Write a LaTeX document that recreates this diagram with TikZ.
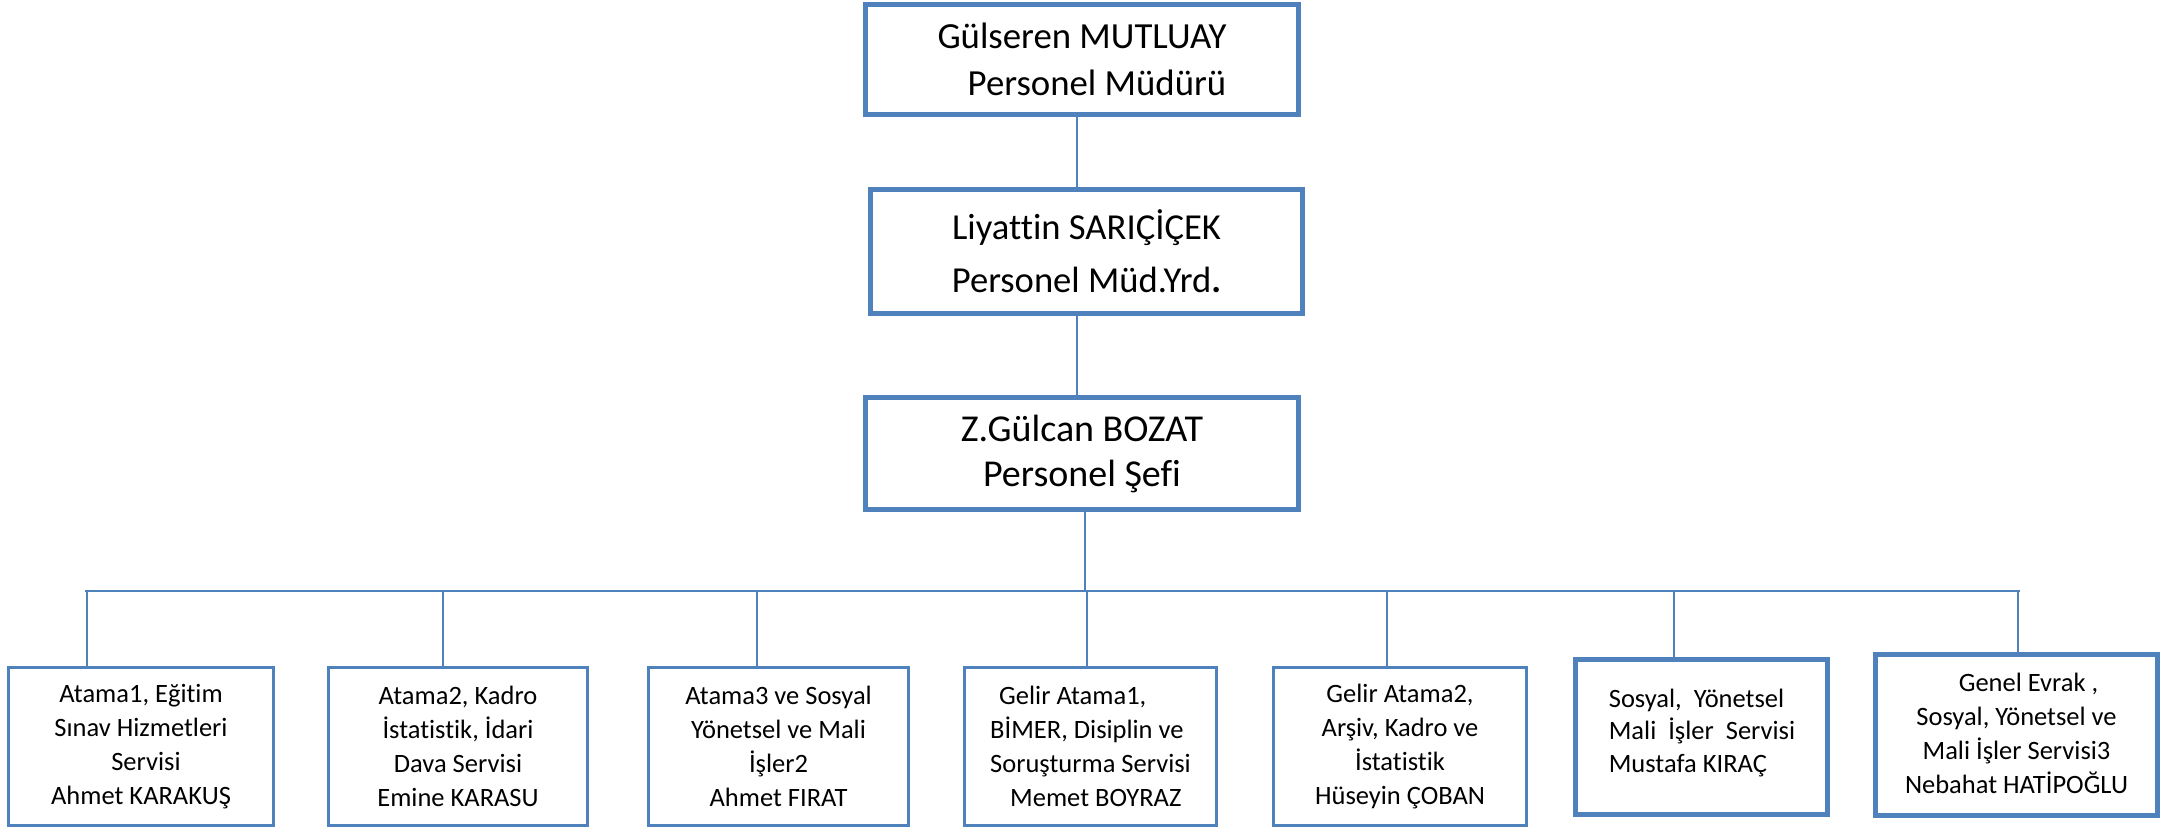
\documentclass[tikz,border=0pt]{standalone}
\usepackage{fontspec}
\setmainfont[Ligatures={NoCommon}]{Carlito}
\definecolor{obl}{HTML}{4F81BD}
\begin{document}
\begin{tikzpicture}[x=0.5pt,y=-0.5pt,
  headbox/.style={draw=obl, line width=2.5pt, inner sep=0pt, outer sep=0pt, align=center},
  unitbox/.style={draw=obl, line width=1.5pt, inner sep=0pt, outer sep=0pt, align=center,
    minimum height=79pt, font=\fontsize{13.25pt}{17pt}\selectfont},
  thickunit/.style={draw=obl, line width=2.5pt, inner sep=0pt, outer sep=0pt},
  unittext/.style={inner sep=0pt, font=\fontsize{13.25pt}{17pt}\selectfont},
  link/.style={draw=obl, line width=1.4pt},
  thinlink/.style={draw=obl, line width=1pt}
]
\useasboundingbox (0,0) rectangle (2167,829);

% top chain
\node[headbox, minimum width=216.5pt, minimum height=55pt,
      font=\fontsize{18.4pt}{23.5pt}\selectfont] (mud) at (1082,59.5)
  {Gülseren MUTLUAY\\\hspace*{15pt}Personel Müdürü};
\node[headbox, minimum width=216pt, minimum height=62pt,
      font=\fontsize{18.3pt}{26.5pt}\selectfont] (yrd) at (1086.5,251.5)
  {Liyattin SARIÇİÇEK\\Personel Müd.Yrd{\bfseries .}};
\node[headbox, minimum width=216.5pt, minimum height=56pt,
      font=\fontsize{19pt}{22.5pt}\selectfont] (sef) at (1082,453.5)
  {Z.Gülcan BOZAT\\Personel Şefi};

% bottom units
\node[unitbox, minimum width=132.5pt] (u1) at (141,746.5)
  {Atama1, Eğitim\\Sınav Hizmetleri\\\hspace*{5pt}Servisi\\Ahmet KARAKUŞ};
\node[unitbox, minimum width=129.5pt] (u2) at (458,746.5)
  {Atama2, Kadro\\İstatistik, İdari\\Dava Servisi\\Emine KARASU};
\node[unitbox, minimum width=130pt] (u3) at (778.5,746.5)
  {Atama3 ve Sosyal\\Yönetsel ve Mali\\İşler2\\Ahmet FIRAT};
\node[unitbox, minimum width=126pt, align=left] (u4) at (1090.5,746.5)
  {\hspace*{4.5pt}Gelir Atama1,\\BİMER, Disiplin ve\\Soruşturma Servisi\\\hspace*{10pt}Memet BOYRAZ};
\node[unitbox, minimum width=126.5pt] (u5) at (1400,746.5)
  {Gelir Atama2,\\Arşiv, Kadro ve\\İstatistik\\Hüseyin ÇOBAN};
\node[thickunit, minimum width=126pt, minimum height=77.5pt] (u6) at (1701.5,737) {};
\node[unittext, align=left, font=\fontsize{13.25pt}{16.3pt}\selectfont] (t6) at (1702,733)
  {Sosyal,\ \ Yönetsel\\Mali\ \ İşler\ \ Servisi\\Mustafa KIRAÇ};
\node[thickunit, minimum width=141pt, minimum height=80.5pt] (u7) at (2016.5,735) {};
\node[unittext, align=center] (t7) at (2016.5,733)
  {\hspace*{12pt}Genel Evrak ,\\Sosyal, Yönetsel ve\\Mali İşler Servisi3\\Nebahat HATİPOĞLU};

% bus junctions
\coordinate (bl) at (85,591);
\coordinate (br) at (2020,591);
\coordinate (j0) at (1085,591);
\coordinate (j1) at (87,591);
\coordinate (j2) at (443,591);
\coordinate (j3) at (757,591);
\coordinate (j4) at (1087,591);
\coordinate (j5) at (1387,591);
\coordinate (j6) at (1674,591);
\coordinate (j7) at (2018,591);

% connectors
\draw[thinlink] ([xshift=-2.5pt]mud.south) -- ([xshift=-2.5pt]mud.south |- yrd.north);
\draw[thinlink] ([xshift=-5pt]yrd.south) -- ([xshift=-5pt]yrd.south |- sef.north);
\draw[thinlink] (sef.south -| j0) -- (j0);
\draw[link] (bl) -- (br);
\draw[link] (j1) -- (j1 |- u1.north);
\draw[link] (j2) -- (j2 |- u2.north);
\draw[link] (j3) -- (j3 |- u3.north);
\draw[link] (j4) -- (j4 |- u4.north);
\draw[link] (j5) -- (j5 |- u5.north);
\draw[thinlink] (j6) -- (j6 |- u6.north);
\draw[thinlink] (j7) -- (j7 |- u7.north);
\end{tikzpicture}
\end{document}
